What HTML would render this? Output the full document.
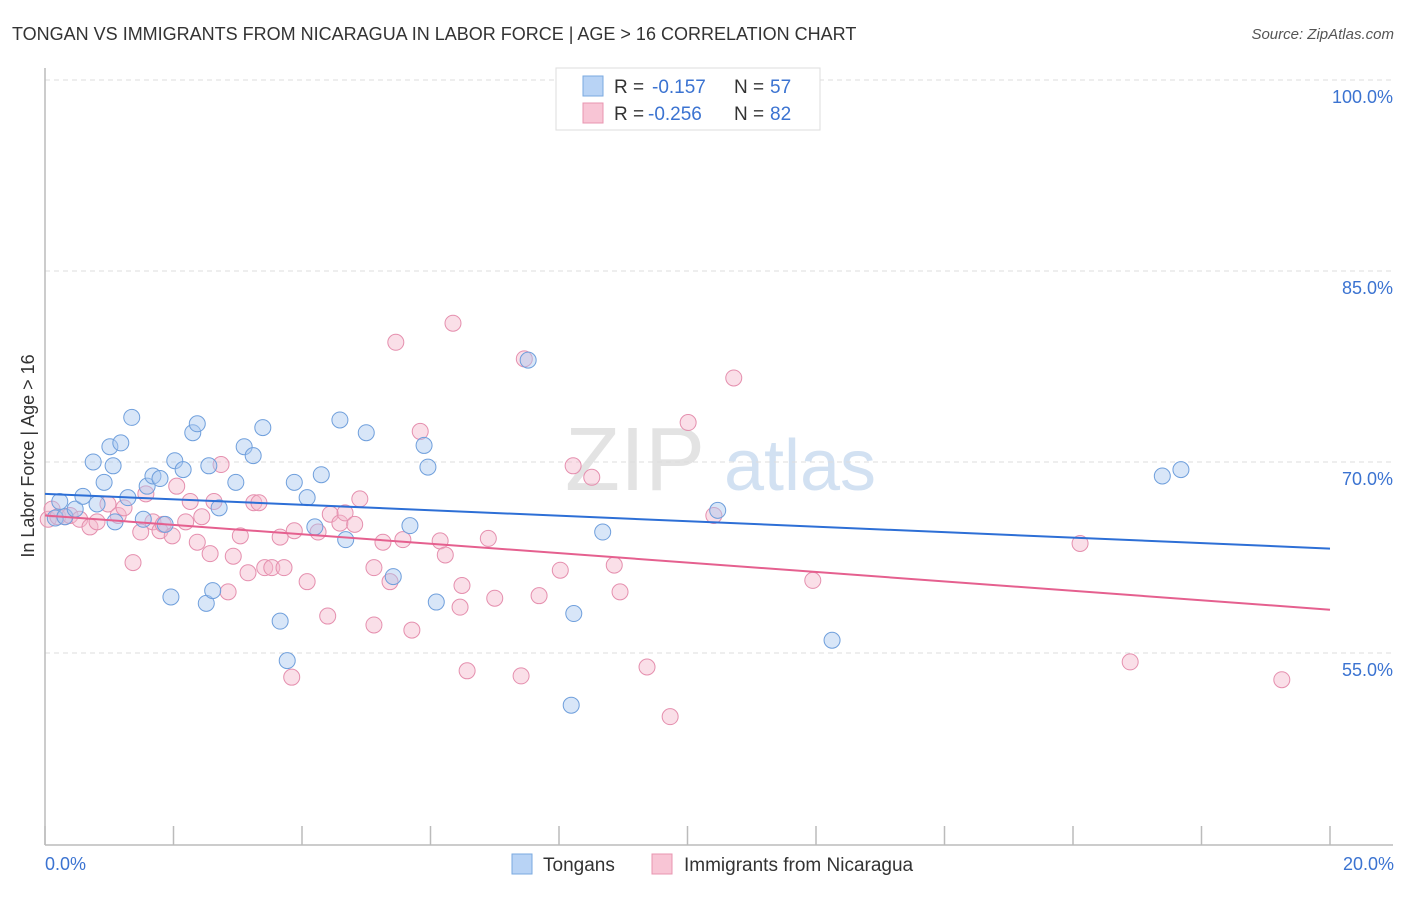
<!DOCTYPE html>
<html><head><meta charset="utf-8"><style>
body{margin:0;background:#fff;font-family:"Liberation Sans",sans-serif;}
svg text{font-family:"Liberation Sans",sans-serif;}
</style></head><body>
<svg id="chart" width="1406" height="892" xmlns="http://www.w3.org/2000/svg">
<text x="12" y="40" font-size="18" fill="#333">TONGAN VS IMMIGRANTS FROM NICARAGUA IN LABOR FORCE | AGE &gt; 16 CORRELATION CHART</text>
<text x="1394" y="39" font-size="15" fill="#555" font-style="italic" text-anchor="end">Source: ZipAtlas.com</text>
<text x="34" y="456" font-size="18" fill="#333" text-anchor="middle" transform="rotate(-90 34 456)">In Labor Force | Age &gt; 16</text>
<g><text x="635" y="490" font-size="90" fill="#ddd" font-family="Liberation Serif" text-anchor="middle" opacity="0.8">ZIP</text><text x="800" y="490" font-size="72" fill="#c8daf0" text-anchor="middle" opacity="0.8">atlas</text></g>
<g id="grid"></g><g id="axes"></g><g id="pts"></g><g id="trend"></g>
<g>
<rect x="556" y="68" width="264" height="62" fill="#fff" stroke="#ddd"/>
<rect x="583" y="76" width="20" height="20" fill="#b8d3f5" stroke="#7aaae0"/>
<text x="614" y="93" font-size="19" fill="#333">R = </text><text x="652" y="93" font-size="19" fill="#3b73d1">-0.157</text>
<text x="734" y="93" font-size="19" fill="#333">N = </text><text x="770" y="93" font-size="19" fill="#3b73d1">57</text>
<rect x="583" y="103" width="20" height="20" fill="#f8c5d5" stroke="#e895b0"/>
<text x="614" y="120" font-size="19" fill="#333">R = </text><text x="648" y="120" font-size="19" fill="#3b73d1">-0.256</text>
<text x="734" y="120" font-size="19" fill="#333">N = </text><text x="770" y="120" font-size="19" fill="#3b73d1">82</text>
</g>
<g>
<rect x="512" y="854" width="20" height="20" fill="#b8d3f5" stroke="#7aaae0"/>
<text x="543" y="871" font-size="19" fill="#333">Tongans</text>
<rect x="652" y="854" width="20" height="20" fill="#f8c5d5" stroke="#e895b0"/>
<text x="684" y="871" font-size="19" fill="#333">Immigrants from Nicaragua</text>
</g>
</svg>
<script>
const blueX=[0.16,0.23,0.31,0.47,0.59,0.81,0.75,0.92,1.01,1.06,1.09,1.18,1.29,1.35,1.53,1.59,1.68,1.79,1.87,1.96,2.02,2.15,2.30,2.37,2.51,2.55,2.61,2.71,2.97,3.10,3.24,3.39,3.66,3.77,3.88,4.08,4.20,4.30,4.59,4.68,5.00,5.42,5.68,5.90,5.96,6.09,7.52,8.19,8.23,8.68,10.47,12.25,17.39,17.68];
const blueY=[65.6,66.9,65.7,66.3,67.3,66.7,70.0,68.4,71.2,69.7,65.3,71.5,67.2,73.5,65.5,68.1,68.9,68.7,65.1,59.4,70.1,69.4,72.3,73.0,58.9,69.7,59.9,66.4,68.4,71.2,70.5,72.7,57.5,54.4,68.4,67.2,64.9,69.0,73.3,63.9,72.3,61.0,65.0,71.3,69.6,59.0,78.0,50.9,58.1,64.5,66.2,56.0,68.9,69.4];
const pinkX=[0.05,0.11,0.20,0.31,0.39,0.54,0.70,0.81,0.98,1.14,1.23,1.37,1.49,1.57,1.68,1.79,1.84,1.98,2.05,2.19,2.26,2.37,2.44,2.57,2.63,2.74,2.85,2.93,3.04,3.16,3.25,3.33,3.42,3.53,3.66,3.72,3.84,3.88,4.08,4.25,4.40,4.44,4.59,4.67,4.82,4.90,5.12,5.12,5.26,5.37,5.46,5.57,5.71,5.84,6.15,6.23,6.35,6.46,6.49,6.57,6.90,7.00,7.41,7.46,7.69,8.02,8.22,8.51,8.86,8.95,9.37,9.73,10.01,10.41,10.72,11.95,16.11,16.89,19.25];
const pinkY=[65.5,66.3,65.7,65.7,65.8,65.5,64.9,65.3,66.7,65.8,66.4,62.1,64.5,67.5,65.3,64.6,65.1,64.2,68.1,65.3,66.9,63.7,65.7,62.8,66.9,69.8,59.8,62.6,64.2,61.3,66.8,66.8,61.7,61.7,64.1,61.7,53.1,64.6,60.6,64.5,57.9,65.9,65.2,66.0,65.1,67.1,61.7,57.2,63.7,60.6,79.4,63.9,56.8,72.4,63.8,62.7,80.9,58.6,60.3,53.6,64.0,59.3,53.2,78.1,59.5,61.5,69.7,68.8,61.9,59.8,53.9,50.0,73.1,65.8,76.6,60.7,63.6,54.3,52.9];
const blueTrend=[67.5,63.2];
const pinkTrend=[65.8,58.4];
const yTicks=[100,85,70,55];
const yTickLabels=["100.0%","85.0%","70.0%","55.0%"];
const xTickVals=[0,2,4,6,8,10,12,14,16,18,20];
const NS="http://www.w3.org/2000/svg";
const xS=v=>45+v*64.25, yS=v=>80+(100-v)*12.733;
function mk(t,a,p){const e=document.createElementNS(NS,t);for(const k in a)e.setAttribute(k,a[k]);p.appendChild(e);return e;}
const grid=document.getElementById('grid'),axes=document.getElementById('axes'),pts=document.getElementById('pts'),tr=document.getElementById('trend');
yTicks.forEach((v,i)=>{
 const l=mk('line',{x1:45,x2:1393,y1:yS(v),y2:yS(v),stroke:'#ddd','stroke-dasharray':'5,4'},grid);
 
 
 const t=mk('text',{x:1393,y:yS(v)+23,'font-size':18,fill:'#3b73d1','text-anchor':'end'},grid);t.textContent=yTickLabels[i];
 
 
});
const ya=mk('line',{x1:45,x2:45,y1:68,y2:845,stroke:'#bbb','stroke-width':1.5},axes);


const xa=mk('line',{x1:45,x2:1393,y1:845,y2:845,stroke:'#bbb','stroke-width':1.5},axes);


xTickVals.forEach(v=>{const t=mk('line',{x1:xS(v),x2:xS(v),y1:826,y2:845,stroke:'#bbb','stroke-width':1.5},axes);
 
 });
[[0,'start',45],[20,'end',1394]].forEach(([v,a,x])=>{const t=mk('text',{x:x,y:870,'font-size':18,fill:'#3b73d1','text-anchor':a},axes);t.textContent=v.toFixed(1)+'%';
 
 });
function dots(X,Y,fill,stroke,name){X.forEach((x,i)=>{const c=mk('circle',{cx:xS(x),cy:yS(Y[i]),r:8,fill:fill,'fill-opacity':0.45,stroke:stroke,'stroke-width':1},pts);
 
 });}
dots(pinkX,pinkY,'#f5b8cc','#e58fae','nicaragua-point');
dots(blueX,blueY,'#a9c8f0','#6f9fdc','tongan-point');
const bl=mk('line',{x1:xS(0),x2:xS(20),y1:yS(blueTrend[0]),y2:yS(blueTrend[1]),stroke:'#2d6fd6','stroke-width':2},tr);


const pl=mk('line',{x1:xS(0),x2:xS(20),y1:yS(pinkTrend[0]),y2:yS(pinkTrend[1]),stroke:'#e5608f','stroke-width':2},tr);


</script>
</body></html>
